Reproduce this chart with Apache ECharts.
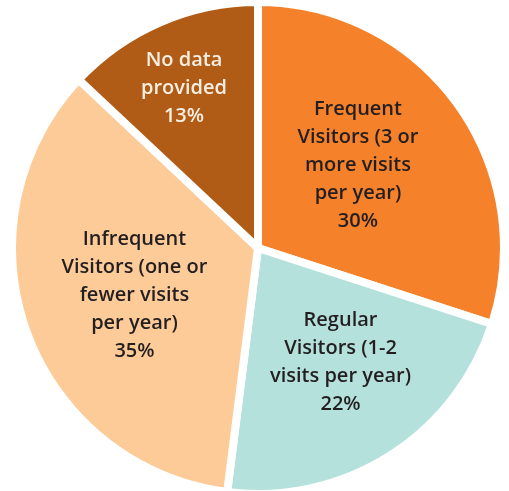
<!DOCTYPE html>
<html>
<head>
<meta charset="utf-8">
<script src="https://cdn.jsdelivr.net/npm/echarts@6/dist/echarts.min.js"></script>
<style>
  html, body { margin: 0; padding: 0; background: #fff; }
  #chart { width: 509px; height: 491px; }
</style>
</head>
<body>
<div id="chart"></div>
<script>
// visitor groups, clockwise from the top
var categories = [
  'Frequent\nVisitors (3 or\nmore visits\nper year)',
  'Regular\nVisitors (1-2\nvisits per year)',
  'Infrequent\nVisitors (one or\nfewer visits\nper year)',
  'No data\nprovided'
];
var shares = [30, 22, 35, 13];
var sliceColors = ['#f5822a', '#b4e1dc', '#fdcb98', '#b15c16'];
var labelColors = ['#231f20', '#231f20', '#231f20', '#f7efe3'];

// nudge the inside labels to where they sit in the original
var labelShift = [[-2, -9], [15, 8], [-5, 5], [-24, -44]];

var pieData = categories.map(function (name, i) {
  return {
    name: name,
    value: shares[i],
    itemStyle: { color: sliceColors[i] },
    label: { color: labelColors[i] }
  };
});

var myChart = echarts.init(document.getElementById('chart'));
myChart.setOption({
  animation: false,
  series: [{
    type: 'pie',
    center: [258, 248],
    radius: [0, 246],
    startAngle: 90,
    clockwise: true,
    data: pieData,
    itemStyle: { borderColor: '#fff', borderWidth: 8 },
    label: {
      position: 'inside',
      formatter: '{b}\n{c}%',
      fontFamily: 'Open Sans',
      fontWeight: 600,
      fontSize: 20,
      lineHeight: 28,
      align: 'center'
    },
    labelLine: { show: false },
    labelLayout: function (params) {
      var s = labelShift[params.dataIndex];
      return { dx: s[0], dy: s[1] };
    }
  }]
});
</script>
</body>
</html>
